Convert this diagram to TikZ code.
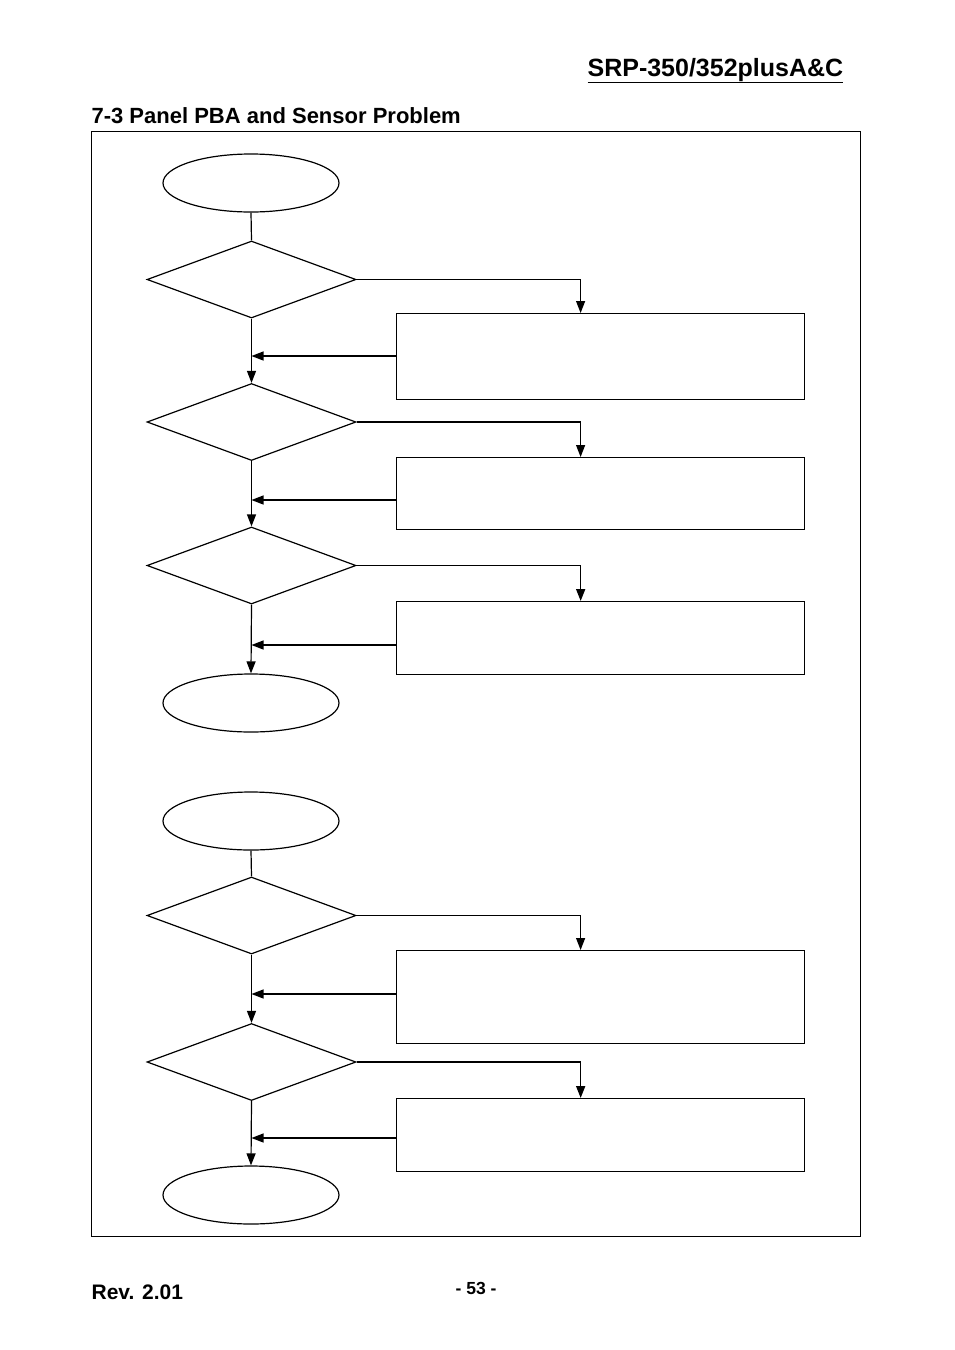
\documentclass[tikz,border=0pt]{standalone}
\usepackage{fontspec}
\setmainfont{Liberation Sans}
\usetikzlibrary{shapes.geometric,arrows.meta}
\begin{document}
\begin{tikzpicture}[x=1pt,y=-1pt,line width=1.2pt,
  term/.style={draw,ellipse,minimum width=176pt,minimum height=58pt,inner sep=0pt},
  decide/.style={draw,diamond,minimum width=209pt,minimum height=77pt,inner sep=0pt},
  action/.style={draw,rectangle,minimum width=408pt,inner sep=0pt},
  flow/.style={-{Triangle[width=9pt,length=12pt]}},
  heavy/.style={line width=1.6pt}]
\useasboundingbox (0,0) rectangle (954,1350);
% header texts
\node[anchor=base west,inner sep=0pt,font=\bfseries\fontsize{25}{28}\selectfont] (hdr) at (587,76) {\underline{SRP-350/352plusA\&C}};
\node[anchor=base west,inner sep=0pt,font=\bfseries\fontsize{22}{26}\selectfont] (ttl) at (91,123) {7-3 Panel PBA and Sensor Problem};
\node[anchor=base west,inner sep=0pt,font=\bfseries\fontsize{21}{24}\selectfont] (rev) at (91,1299) {Rev. 2.01};
\node[anchor=base west,inner sep=0pt,font=\bfseries\fontsize{17.5}{20}\selectfont] (pg) at (455,1294) {- 53 -};
% frame
\node[draw,rectangle,line width=1pt,minimum width=769pt,minimum height=1105pt,inner sep=0pt,anchor=north west] (frame) at (91,131) {};
% flow 1
\node[term] (e1) at (251,183) {};
\node[decide] (d1) at (251.5,279.5) {};
\node[action,minimum height=86pt,anchor=north west] (b1) at (396,313) {};
\node[decide] (d2) at (251.5,422) {};
\node[action,minimum height=72pt,anchor=north west] (b2) at (396,457) {};
\node[decide] (d3) at (251.5,565.5) {};
\node[action,minimum height=73pt,anchor=north west,line width=1.35pt] (b3) at (396,601) {};
\node[term] (e2) at (251,703) {};
\coordinate (r1) at (396,356);
\coordinate (r2) at (396,500);
\coordinate (r3) at (396,645);
\draw (e1.south) -- (d1.north);
\draw[flow] (d1.east) -| ([xshift=-20pt]b1.north);
\draw[flow] (r1) -- (r1 -| d1.south);
\draw[flow] (d1.south) -- (d2.north);
\draw[flow] (d2.east) -| ([xshift=-20pt]b2.north);
\draw[flow] (r2) -- (r2 -| d2.south);
\draw[flow] (d2.south) -- (d3.north);
\draw[flow,heavy] (d3.east) -| ([xshift=-20pt]b3.north);
\draw[flow] (r3) -- (r3 -| d3.south);
\draw[flow] (d3.south) -- (e2.north);
% flow 2
\node[term] (e3) at (251,821) {};
\node[decide] (d4) at (251.5,915.5) {};
\node[action,minimum height=93pt,anchor=north west] (b4) at (396,950) {};
\node[decide] (d5) at (251.5,1062) {};
\node[action,minimum height=73pt,anchor=north west,line width=1.35pt] (b5) at (396,1098) {};
\node[term] (e4) at (251,1195) {};
\coordinate (r4) at (396,994);
\coordinate (r5) at (396,1138);
\draw (e3.south) -- (d4.north);
\draw[flow] (d4.east) -| ([xshift=-20pt]b4.north);
\draw[flow] (r4) -- (r4 -| d4.south);
\draw[flow] (d4.south) -- (d5.north);
\draw[flow,heavy] (d5.east) -| ([xshift=-20pt]b5.north);
\draw[flow] (r5) -- (r5 -| d5.south);
\draw[flow] (d5.south) -- (e4.north);
\end{tikzpicture}
\end{document}
